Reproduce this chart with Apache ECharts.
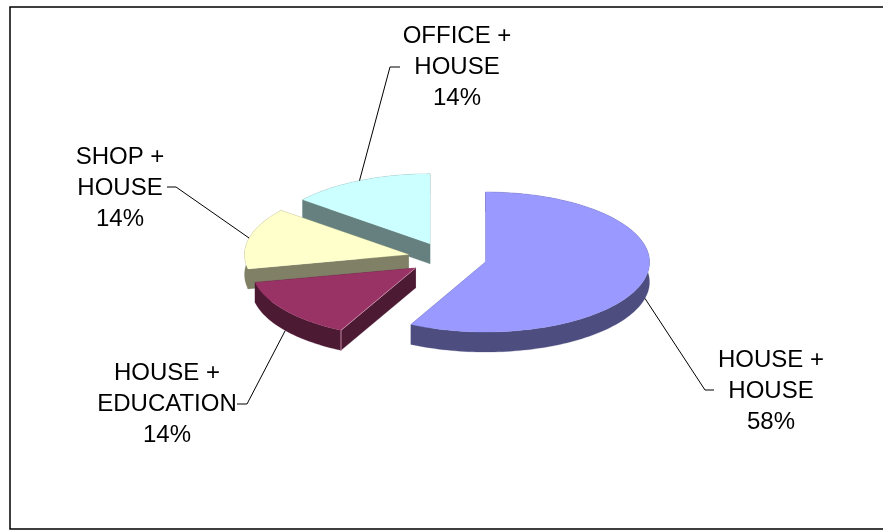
<!DOCTYPE html>
<html>
<head>
<meta charset="utf-8">
<style>html,body{margin:0;padding:0;background:#fff}#c{width:883px;height:530px}</style>
<script src="https://cdn.jsdelivr.net/npm/echarts@6/dist/echarts.min.js"></script>
</head>
<body>
<div id="c"></div>
<script>
// --- data ---
const categories = ['HOUSE +\nHOUSE', 'HOUSE +\nEDUCATION', 'SHOP +\nHOUSE', 'OFFICE +\nHOUSE'];
const values = [57.51, 14.2, 14.15, 14.14];

// --- styles ---
const topColors = ['#9999FF', '#993366', '#FFFFCC', '#CCFFFF'];
const sideColors = ['#4D4D80', '#4D1A33', '#808066', '#668080'];
const edgeColors = [null, '#C58AA6', null, null];
const drawRank = [4, 3, 2, 1];

// --- layout ---
const pie = { cx: 447, cy: 258.3, rx: 164, ry: 70, depth: 20, explodeX: 39.6, explodeY: 16 };
const labelCenter = [[771, 391.5], [167, 404.5], [120, 188.5], [457, 67.5]];
const labelElbow = [[[705, 390], [714, 390]], [[247, 404], [237, 404]], [[176, 187], [167, 187]], [[390, 67], [400, 67]]];
const frame = { left: 10, top: 7, bottom: 529 };

const total = values.reduce((a, b) => a + b, 0);
const rad = d => d * Math.PI / 180;

function renderSlice(params, api) {
  const i = params.dataIndex;
  const value = api.value(1);
  const before = values.slice(0, i).reduce((a, b) => a + b, 0);
  const a0 = before / total * 360;
  const a1 = (before + value) / total * 360;
  const mid = (a0 + a1) / 2;
  const ox = pie.cx + pie.explodeX * Math.sin(rad(mid));
  const oy = pie.cy - pie.explodeY * Math.cos(rad(mid));
  const pt = (a, dz) => [ox + pie.rx * Math.sin(rad(a)), oy - pie.ry * Math.cos(rad(a)) + (dz || 0)];
  const z2 = drawRank[i];
  const children = [];

  const arc = [];
  const steps = Math.max(12, Math.round((a1 - a0) / 1.5));
  for (let k = 0; k <= steps; k++) arc.push(a0 + (a1 - a0) * k / steps);

  // extruded side: outer wall and the two cut faces
  const wall = arc.map(a => pt(a, 0)).concat(arc.slice().reverse().map(a => pt(a, pie.depth)));
  const side = { fill: sideColors[i], stroke: sideColors[i], lineWidth: 0.25 };
  children.push({ type: 'polygon', z2, shape: { points: wall }, style: side });
  [a0, a1].forEach(a => {
    children.push({ type: 'polygon', z2, shape: { points: [[ox, oy], pt(a, 0), pt(a, pie.depth), [ox, oy + pie.depth]] }, style: side });
  });
  // top face
  const top = [[ox, oy]].concat(arc.map(a => pt(a, 0)));
  children.push({ type: 'polygon', z2, shape: { points: top }, style: { fill: topColors[i], stroke: topColors[i], lineWidth: 0.25 } });

  if (edgeColors[i]) {
    children.push({ type: 'polyline', z2, shape: { points: [[ox, oy], pt(a0, 0), pt(a0, pie.depth)] }, style: { fill: null, stroke: edgeColors[i], lineWidth: 1 } });
  }

  // leader line and label
  const front = Math.cos(rad(mid)) < 0;
  const start = pt(mid, front ? pie.depth : 0);
  children.push({ type: 'polyline', z2: 10, shape: { points: [start].concat(labelElbow[i]) }, style: { fill: null, stroke: '#000', lineWidth: 1 } });
  children.push({
    type: 'text', z2: 11, x: labelCenter[i][0], y: labelCenter[i][1],
    style: {
      text: categories[i] + '\n' + Math.round(value / total * 100) + '%',
      fill: '#000', font: '24px "Liberation Sans"', lineHeight: 31,
      align: 'center', verticalAlign: 'middle'
    }
  });
  return { type: 'group', children };
}

const chart = echarts.init(document.getElementById('c'), null, { renderer: 'canvas' });
chart.setOption({
  animation: false,
  backgroundColor: '#fff',
  graphic: [{
    type: 'polyline', silent: true,
    shape: { points: [[883, frame.top], [frame.left, frame.top], [frame.left, frame.bottom], [883, frame.bottom]] },
    style: { fill: null, stroke: '#000', lineWidth: 1.5 }
  }],
  series: [{
    type: 'custom',
    coordinateSystem: 'none',
    silent: true,
    clip: false,
    renderItem: renderSlice,
    data: values.map((v, i) => [i, v])
  }]
});
</script>
</body>
</html>
